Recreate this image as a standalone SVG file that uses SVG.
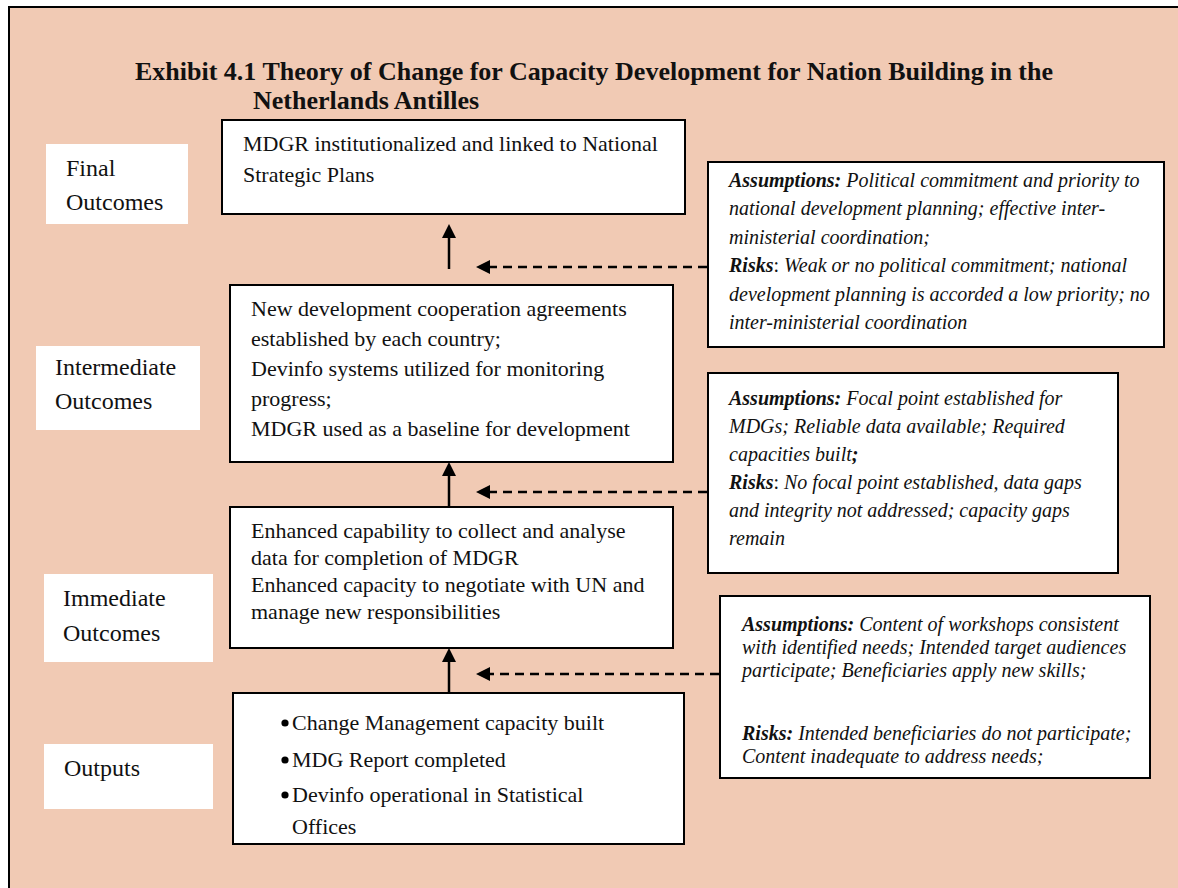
<svg xmlns="http://www.w3.org/2000/svg" width="1178" height="888" viewBox="0 0 1178 888">
<style>
  text { font-family: "Liberation Serif", "Times New Roman", serif; fill: #111; }
  .title { font-size: 26px; font-weight: bold; }
  .body { font-size: 22px; }
  .lbl { font-size: 24px; }
  .it { font-size: 20px; font-style: italic; }
  .bi { font-weight: bold; font-style: italic; }
  .up { font-style: normal; }
  .box { fill: #fff; stroke: #000; stroke-width: 2; }
  .label { fill: #fff; stroke: none; }
  .solid { stroke: #000; stroke-width: 2.5; fill: none; }
  .dash { stroke: #000; stroke-width: 2.5; fill: none; stroke-dasharray: 9 6; }
  .head { fill: #000; }
</style>
<rect x="9" y="7" width="1200" height="920" fill="#F1CAB4" stroke="#000" stroke-width="2"/>

<g id="title">
  <text class="title" x="135" y="80">Exhibit 4.1 Theory of Change for Capacity Development for Nation Building in the</text>
  <text class="title" x="253" y="109">Netherlands Antilles</text>
</g>

<g id="label-final">
  <rect class="label" x="46" y="144" width="142" height="80"/>
  <text class="lbl" x="66" y="176">Final</text>
  <text class="lbl" x="66" y="210">Outcomes</text>
</g>
<g id="label-intermediate">
  <rect class="label" x="36" y="346" width="164" height="84"/>
  <text class="lbl" x="55" y="375">Intermediate</text>
  <text class="lbl" x="55" y="409">Outcomes</text>
</g>
<g id="label-immediate">
  <rect class="label" x="44" y="574" width="169" height="88"/>
  <text class="lbl" x="63" y="606">Immediate</text>
  <text class="lbl" x="63" y="641">Outcomes</text>
</g>
<g id="label-outputs">
  <rect class="label" x="44" y="744" width="169" height="65"/>
  <text class="lbl" x="64" y="776">Outputs</text>
</g>

<g id="final-outcomes">
  <rect class="box" x="222" y="120" width="463" height="94"/>
  <text class="body" x="243" y="151">MDGR institutionalized and linked to National</text>
  <text class="body" x="243" y="182">Strategic Plans</text>
</g>

<g id="intermediate-outcomes">
  <rect class="box" x="230" y="285" width="443" height="177"/>
  <text class="body" x="251" y="316">New development cooperation agreements</text>
  <text class="body" x="251" y="346">established by each country;</text>
  <text class="body" x="251" y="376">Devinfo systems utilized for monitoring</text>
  <text class="body" x="251" y="406">progress;</text>
  <text class="body" x="251" y="436">MDGR used as a baseline for development</text>
</g>

<g id="immediate-outcomes">
  <rect class="box" x="230" y="507" width="443" height="141"/>
  <text class="body" x="251" y="538">Enhanced capability to collect and analyse</text>
  <text class="body" x="251" y="565">data for completion of MDGR</text>
  <text class="body" x="251" y="592">Enhanced capacity to negotiate with UN and</text>
  <text class="body" x="251" y="619">manage new responsibilities</text>
</g>

<g id="outputs">
  <rect class="box" x="233" y="693" width="451" height="151"/>
  <circle cx="285" cy="723" r="3.6" fill="#000"/>
  <circle cx="285" cy="760" r="3.6" fill="#000"/>
  <circle cx="285" cy="795" r="3.6" fill="#000"/>
  <text class="body" x="292" y="730">Change Management capacity built</text>
  <text class="body" x="292" y="767">MDG Report completed</text>
  <text class="body" x="292" y="802">Devinfo operational in Statistical</text>
  <text class="body" x="292" y="834">Offices</text>
</g>

<g id="assumptions-final">
  <rect class="box" x="708" y="162" width="456" height="185"/>
  <text class="it" x="729" y="187"><tspan class="bi">Assumptions:</tspan> Political commitment and priority to</text>
  <text class="it" x="729" y="215">national development planning; effective inter-</text>
  <text class="it" x="729" y="244">ministerial coordination;</text>
  <text class="it" x="729" y="272"><tspan class="bi">Risks</tspan><tspan class="up">:</tspan> Weak or no political commitment; national</text>
  <text class="it" x="729" y="301">development planning is accorded a low priority; no</text>
  <text class="it" x="729" y="329">inter-ministerial coordination</text>
</g>

<g id="assumptions-intermediate">
  <rect class="box" x="708" y="373" width="410" height="200"/>
  <text class="it" x="729" y="405"><tspan class="bi">Assumptions:</tspan> Focal point established for</text>
  <text class="it" x="729" y="433">MDGs; Reliable data available; Required</text>
  <text class="it" x="729" y="461">capacities built<tspan class="bi">;</tspan></text>
  <text class="it" x="729" y="489"><tspan class="bi">Risks</tspan><tspan class="up">:</tspan> No focal point established, data gaps</text>
  <text class="it" x="729" y="517">and integrity not addressed; capacity gaps</text>
  <text class="it" x="729" y="545">remain</text>
</g>

<g id="assumptions-immediate">
  <rect class="box" x="720" y="596" width="430" height="182"/>
  <text class="it" x="742" y="631"><tspan class="bi">Assumptions:</tspan> Content of workshops consistent</text>
  <text class="it" x="742" y="654">with identified needs; Intended target audiences</text>
  <text class="it" x="742" y="677">participate; Beneficiaries apply new skills;</text>
  <text class="it" x="742" y="740"><tspan class="bi">Risks:</tspan> Intended beneficiaries do not participate;</text>
  <text class="it" x="742" y="763">Content inadequate to address needs;</text>
</g>

<g id="connectors">
  <line class="solid" x1="449" y1="269" x2="449" y2="236"/>
  <polygon class="head" points="449,224 442,238 456,238"/>
  <line class="solid" x1="449" y1="507" x2="449" y2="474"/>
  <polygon class="head" points="449,462 442,476 456,476"/>
  <line class="solid" x1="449" y1="693" x2="449" y2="660"/>
  <polygon class="head" points="449,648 442,662 456,662"/>

  <line class="dash" x1="707" y1="267" x2="490" y2="267"/>
  <polygon class="head" points="476,267 490,260 490,274"/>
  <line class="dash" x1="707" y1="492" x2="490" y2="492"/>
  <polygon class="head" points="476,492 490,485 490,499"/>
  <line class="dash" x1="719" y1="674" x2="490" y2="674"/>
  <polygon class="head" points="476,674 490,667 490,681"/>
</g>
</svg>
